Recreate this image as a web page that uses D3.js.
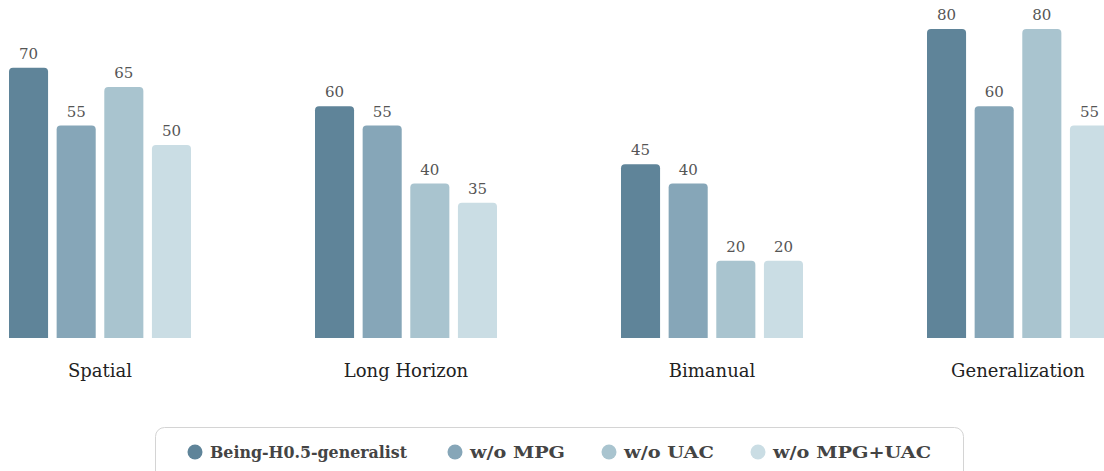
<!DOCTYPE html>
<html><head><meta charset="utf-8">
<script src="https://cdn.jsdelivr.net/npm/d3@7"></script>
<style>html,body{margin:0;padding:0;background:#fff;overflow:hidden}</style>
</head><body>
<svg id="chart" width="1104" height="471"></svg>
<script>
const categories = ["Spatial", "Long Horizon", "Bimanual", "Generalization"];
const seriesNames = ["Being-H0.5-generalist", "w/o MPG", "w/o UAC", "w/o MPG+UAC"];
const generalist = [70, 60, 45, 80];
const woMPG = [55, 55, 40, 60];
const woUAC = [65, 40, 20, 80];
const woMPGUAC = [50, 35, 20, 55];
const seriesValues = [generalist, woMPG, woUAC, woMPGUAC];
const colors = ["#5f8499", "#86a6b8", "#a9c4cf", "#cadde4"];

const svg = d3.select("#chart");
const serif = "'DejaVu Serif', 'Liberation Serif', serif";

const x0 = d3.scaleBand().domain(categories).range([-53, 1171]).padding(0);
const x1 = d3.scaleBand().domain(seriesNames).range([62, 244]).paddingInner(0.18).paddingOuter(0);
const y = d3.scaleLinear().domain([0, 80]).range([338, 29]);

function topRounded(x, yTop, w, yBase, r) {
  const rr = Math.min(r, w / 2, (yBase - yTop) / 2);
  return `M${x},${yBase}V${yTop + rr}Q${x},${yTop} ${x + rr},${yTop}H${x + w - rr}Q${x + w},${yTop} ${x + w},${yTop + rr}V${yBase}Z`;
}

const data = [];
categories.forEach((c, i) => seriesNames.forEach((s, j) => data.push({c, s, j, v: seriesValues[j][i]})));

const g = svg.append("g");
g.selectAll("path.bar").data(data).join("path")
  .attr("class", "bar")
  .attr("fill", d => colors[d.j])
  .attr("d", d => topRounded(x0(d.c) + x1(d.s), y(d.v), x1.bandwidth(), y(0), 4));

g.selectAll("text.val").data(data).join("text")
  .attr("class", "val")
  .attr("x", d => x0(d.c) + x1(d.s) + x1.bandwidth() / 2)
  .attr("y", d => y(d.v) - 9)
  .attr("text-anchor", "middle")
  .attr("font-family", serif)
  .attr("font-size", 15)
  .attr("fill", "#555")
  .text(d => d.v);

g.selectAll("text.cat").data(categories).join("text")
  .attr("class", "cat")
  .attr("x", d => x0(d) + x0.bandwidth() / 2)
  .attr("y", 377)
  .attr("text-anchor", "middle")
  .attr("font-family", serif)
  .attr("font-size", 18)
  .attr("fill", "#222")
  .text(d => d);

// legend
const leg = svg.append("g");
leg.append("rect").attr("x", 155.5).attr("y", 427.5).attr("width", 808).attr("height", 60)
  .attr("rx", 9).attr("fill", "#fff").attr("stroke", "#d4d4d4").attr("stroke-width", 1);
const legX = [195, 455, 609, 758];
const legW = [197, 95, 90, 158];
seriesNames.forEach((s, j) => {
  leg.append("circle").attr("cx", legX[j]).attr("cy", 452).attr("r", 7.5).attr("fill", colors[j]);
  leg.append("text").attr("x", legX[j] + 15).attr("y", 458)
    .attr("font-family", serif).attr("font-size", 16).attr("font-weight", "bold")
    .attr("fill", "#444").attr("textLength", legW[j]).attr("lengthAdjust", "spacingAndGlyphs")
    .text(s);
});
</script>
</body></html>
